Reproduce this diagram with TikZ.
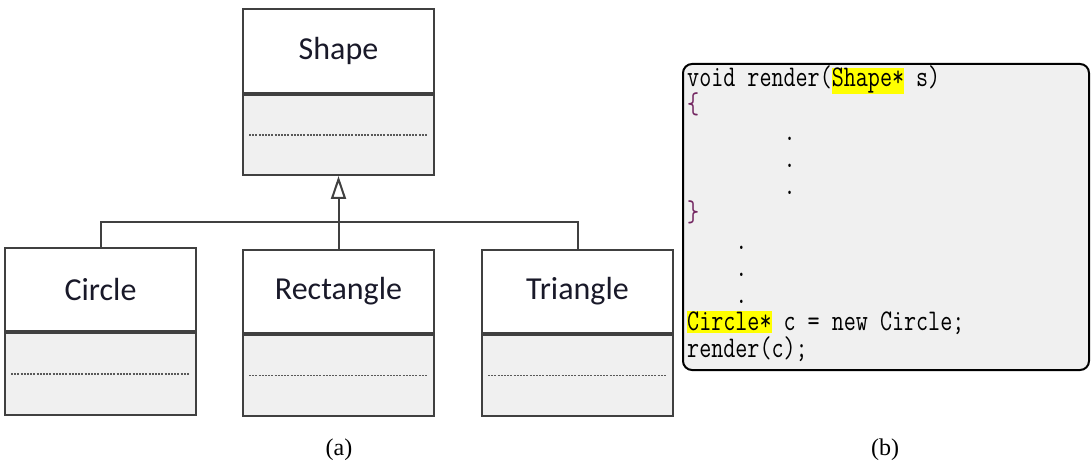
\documentclass[tikz,border=0pt]{standalone}
\usepackage{fontspec}
\usetikzlibrary{arrows.meta}
\newfontfamily\classfont{Carlito}
\newfontfamily\capfont{Liberation Serif}
\newfontfamily\codefont[FakeStretch=0.78]{Latin Modern Mono}
\definecolor{boxline}{rgb}{0.25,0.25,0.25}
\definecolor{boxfill}{rgb}{0.941,0.941,0.941}
\definecolor{namecol}{rgb}{0.1,0.1,0.16}
\definecolor{bracecol}{rgb}{0.45,0.15,0.38}
\definecolor{hlyellow}{rgb}{1,1,0}
\newcommand{\hlbox}[1]{{\setlength{\fboxsep}{0pt}\colorbox{hlyellow}{\rule[-3pt]{0pt}{20pt}#1}}}
\tikzset{
  namepart/.style={draw=boxline, line width=2pt, fill=white, minimum width=191pt, inner sep=0pt, font=\classfont\fontsize{32}{36}\selectfont, text=namecol},
  bodypart/.style={draw=boxline, line width=2pt, fill=boxfill, minimum width=191pt, inner sep=0pt, anchor=north},
  dotsline/.style={draw=gray!70!black, line width=1.6pt, dash pattern=on 2pt off 1.2pt},
  conn/.style={draw=boxline, line width=2pt},
  inh/.style={conn, -{Triangle[open, length=23pt, width=15pt, line width=2pt]}},
  codeline/.style={anchor=base west, inner sep=0pt, font=\codefont\fontsize{30}{27}\selectfont, text=black},
  caption/.style={anchor=base, inner sep=0pt, font=\capfont\fontsize{24}{28}\selectfont}
}
\begin{document}
\begin{tikzpicture}[x=1pt, y=-1pt]
\useasboundingbox (0,0) rectangle (1092,473);
% Shape
\node[namepart, minimum height=84pt] (shapeN) at (338.5,51) {Shape};
\node[bodypart, minimum height=80pt] (shapeB) at (shapeN.south) {};
\draw[dotsline] ([xshift=7pt]shapeB.west) -- ([xshift=-7pt]shapeB.east);
% Circle
\node[namepart, minimum height=83pt] (circN) at (100.5,289.5) {Circle};
\node[bodypart, minimum height=82pt] (circB) at (circN.south) {};
\draw[dotsline] ([xshift=7pt]circB.west) -- ([xshift=-7pt]circB.east);
% Rectangle
\node[namepart, minimum height=83pt] (rectN) at (338.5,291.5) {Rectangle};
\node[bodypart, minimum height=81pt] (rectB) at (rectN.south) {};
\draw[dotsline] ([xshift=7pt]rectB.west) -- ([xshift=-7pt]rectB.east);
% Triangle
\node[namepart, minimum height=83pt] (triN) at (577.5,291.5) {Triangle};
\node[bodypart, minimum height=81pt] (triB) at (triN.south) {};
\draw[dotsline] ([xshift=7pt]triB.west) -- ([xshift=-7pt]triB.east);
% connectors
\coordinate (junc) at (338.5,222);
\draw[inh] (junc) -- (shapeB.south);
\draw[conn] (rectN.north) -- (junc);
\draw[conn] (circN.north) |- (junc) -| (triN.north);
% code box
\node[draw=black, line width=2pt, fill=boxfill, rounded corners=9pt, minimum width=406pt, minimum height=306pt, anchor=north west, inner sep=0pt] (code) at (682,63) {};
\node[codeline] (l1) at (687,87) {void render(\hlbox{Shape*} s)};
\node[codeline, text=bracecol] (l2) at (687,114) {\{};
\node[codeline] (l3) at (687,141) {\hphantom{xxxxxxxx}.};
\node[codeline] (l4) at (687,168) {\hphantom{xxxxxxxx}.};
\node[codeline] (l5) at (687,195) {\hphantom{xxxxxxxx}.};
\node[codeline, text=bracecol] (l6) at (687,222) {\}};
\node[codeline] (l7) at (687,249) {\hphantom{xxxx}.};
\node[codeline] (l8) at (687,276) {\hphantom{xxxx}.};
\node[codeline] (l9) at (687,303) {\hphantom{xxxx}.};
\node[codeline] (l10) at (687,330) {\hlbox{Circle*} c = new Circle;};
\node[codeline] (l11) at (687,357) {render(c);};
% captions
\node[caption] (capa) at (339,455) {(a)};
\node[caption] (capb) at (885,455) {(b)};
\end{tikzpicture}
\end{document}
